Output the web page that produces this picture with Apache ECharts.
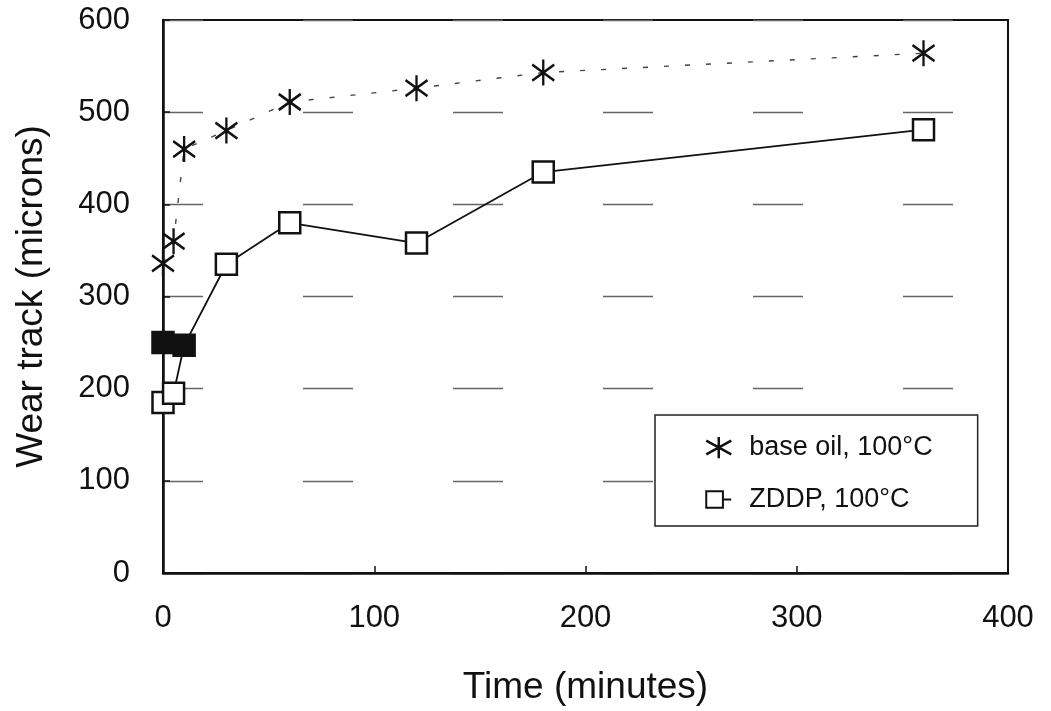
<!DOCTYPE html>
<html>
<head>
<meta charset="utf-8">
<script src="https://cdn.jsdelivr.net/npm/echarts@6/dist/echarts.min.js"></script>
<style>
  html, body { margin: 0; padding: 0; background: #fff; }
  #chart { width: 1051px; height: 711px; }
</style>
</head>
<body>
<div id="chart"></div>
<script>
// values
const timeBase = [0, 5, 10, 30, 60, 120, 180, 360]
const wearBase = [336, 360, 460, 480, 511, 526, 543, 564]
const timeZddp = [0, 0, 5, 10, 30, 60, 120, 180, 360]
const wearZddp = [250, 185, 195, 247, 335, 380, 358, 435, 481]
const filledZddp = [0, 3] // squares that came out solid black in the scan

const xTicks = [0, 100, 200, 300, 400]
const yTicks = [0, 100, 200, 300, 400, 500, 600]

const asterisk = 'path://M11,0L11,26M1,5L21,21M21,5L1,21'
const asteriskLegend = 'path://M10,0L10,17M0,3L20,14M20,3L0,14'
const squareDash = 'path://M1,1L19,1L19,19L1,19Z M19,10L28,10'

const font = 'Liberation Sans, Arial, sans-serif'
const chart = echarts.init(document.getElementById('chart'))

const option = {
  animation: false,
  backgroundColor: '#fff',
  textStyle: { fontFamily: font, color: '#111' },
  grid: {
    left: 163, right: 43, top: 20, bottom: 136,
    show: true, borderColor: '#111', borderWidth: 2
  },
  legend: {
    left: 655, top: 415,
    orient: 'vertical',
    backgroundColor: '#fff',
    borderColor: '#222', borderWidth: 1.5,
    padding: [19, 45, 13, 50],
    itemWidth: 25, itemHeight: 22, itemGap: 25,
    textStyle: { fontFamily: font, fontSize: 27, color: '#111', padding: [0, 0, 0, 13] },
    data: [
      { name: 'base oil, 100°C', icon: asteriskLegend,
        itemStyle: { color: 'transparent', borderColor: '#111', borderWidth: 2.5 } },
      { name: 'ZDDP, 100°C', icon: squareDash,
        itemStyle: { color: '#fff', borderColor: '#111', borderWidth: 2 } }
    ]
  },
  xAxis: {
    type: 'value', min: 0, max: 400, interval: 100,
    name: 'Time (minutes)', nameLocation: 'middle', nameGap: 96,
    nameTextStyle: { fontFamily: font, fontSize: 37, color: '#111' },
    axisLine: { lineStyle: { color: '#111', width: 2.5 } },
    axisTick: { inside: true, length: 7, lineStyle: { color: '#111', width: 1.5 } },
    axisLabel: { fontFamily: font, fontSize: 31, color: '#111', margin: 30,
      formatter: v => xTicks.includes(v) ? String(v) : '' },
    splitLine: { show: false }
  },
  yAxis: {
    type: 'value', min: 0, max: 600, interval: 100,
    name: 'Wear track (microns)', nameLocation: 'middle', nameGap: 113,
    nameTextStyle: { fontFamily: font, fontSize: 37, color: '#111' },
    axisLine: { lineStyle: { color: '#111', width: 2.5 } },
    axisTick: { inside: true, length: 7, lineStyle: { color: '#111', width: 1.5 } },
    axisLabel: { fontFamily: font, fontSize: 31, color: '#111', margin: 33,
      formatter: v => yTicks.includes(v) ? String(v) : '' },
    splitLine: {
      show: true,
      lineStyle: { color: '#666', width: 1.3, type: [50, 100], dashOffset: 10 }
    }
  },
  series: [
    {
      name: 'base oil, 100°C',
      type: 'line',
      data: timeBase.map((t, i) => [t, wearBase[i]]),
      symbol: asterisk,
      symbolSize: [22, 26],
      itemStyle: { color: 'transparent', borderColor: '#111', borderWidth: 2.5 },
      lineStyle: { color: '#444', width: 1.4, type: [5, 16] },
      z: 3
    },
    {
      name: 'ZDDP, 100°C',
      type: 'line',
      data: timeZddp.map((t, i) => [t, wearZddp[i]]),
      symbol: 'rect',
      symbolSize: 21,
      itemStyle: {
        color: p => filledZddp.includes(p.dataIndex) ? '#111' : '#fff',
        borderColor: '#111', borderWidth: 2.5
      },
      lineStyle: { color: '#111', width: 1.8 },
      z: 4
    }
  ]
}

chart.setOption(option)
</script>
</body>
</html>
